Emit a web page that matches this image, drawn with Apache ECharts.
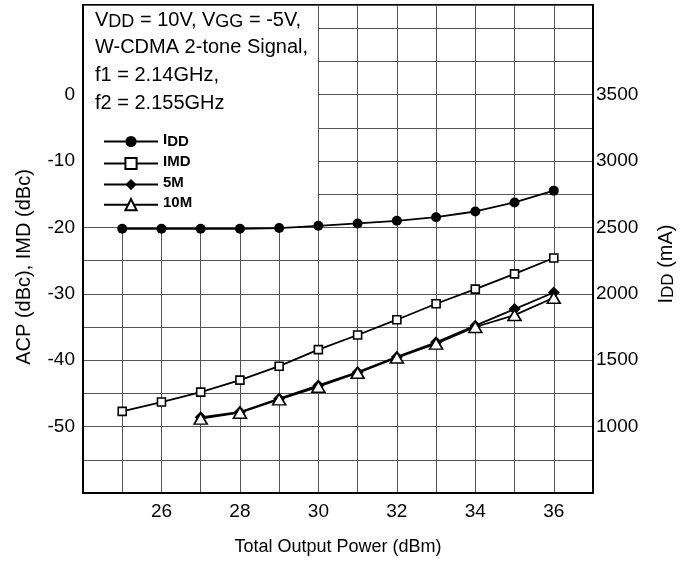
<!DOCTYPE html>
<html>
<head>
<meta charset="utf-8">
<script src="https://cdn.jsdelivr.net/npm/echarts@6/dist/echarts.min.js"></script>
<style>
  html, body { margin: 0; padding: 0; background: #fff; }
  #chart { width: 691px; height: 561px; }
</style>
</head>
<body>
<div id="chart"></div>
<script>
// values
const powerAll = [25, 26, 27, 28, 29, 30, 31, 32, 33, 34, 35, 36]
const iddValues = [2490, 2490, 2490, 2490, 2495, 2512, 2530, 2550, 2577, 2620, 2688, 2777]
const imdValues = [-47.7, -46.3, -44.8, -43.0, -40.9, -38.4, -36.2, -33.9, -31.5, -29.3, -27.0, -24.6]
const powerAcp = [27, 28, 29, 30, 31, 32, 33, 34, 35, 36]
const acp5Values = [-48.6, -47.8, -45.8, -43.8, -41.8, -39.5, -37.3, -34.8, -32.3, -29.8]
const acp10Values = [-48.8, -47.9, -45.9, -44.0, -41.9, -39.6, -37.5, -35.0, -33.2, -30.6]

const xTickLabels = [26, 28, 30, 32, 34, 36]
const leftTickLabels = [-50, -40, -30, -20, -10, 0]
const rightTickLabels = [1000, 1500, 2000, 2500, 3000, 3500]

const noteLines = [
  '{t|V}{s|DD}{t| = 10V, V}{s|GG}{t| = -5V,}',
  '{t|W-CDMA 2-tone Signal,}',
  '{t|f1 = 2.14GHz,}',
  '{t|f2 = 2.155GHz}',
]

const FONT = '"Liberation Sans", Arial, Helvetica, sans-serif'

const pairs = (xs, ys) => xs.map((x, i) => [x, ys[i]])

const chart = echarts.init(document.getElementById('chart'), null, { renderer: 'canvas' })

const lineStyle = { color: '#000', width: 1.8 }

const option = {
  animation: false,
  backgroundColor: '#fff',
  textStyle: { fontFamily: FONT },
  grid: {
    left: 83,
    right: 98,
    top: 5,
    bottom: 68,
    show: true,
    borderColor: '#000',
    borderWidth: 2,
  },
  legend: {
    orient: 'vertical',
    left: 103,
    top: 132,
    padding: 0,
    itemWidth: 54,
    itemHeight: 14,
    itemGap: 5,
    data: ['IDD', 'IMD', '5M', '10M'],
    formatter: (name) => name === 'IDD' ? '{b|I}{bs|DD}' : '{b|' + name + '}',
    textStyle: {
      color: '#000',
      padding: [0, 0, 0, 0],
      rich: {
        b: { fontFamily: FONT, fontSize: 15, fontWeight: 'bold', color: '#000', padding: [0, 0, 4, 0] },
        bs: { fontFamily: FONT, fontSize: 15, fontWeight: 'bold', color: '#000' },
      },
    },
  },
  xAxis: {
    type: 'value',
    min: 24,
    max: 37,
    interval: 1,
    name: 'Total Output Power (dBm)',
    nameLocation: 'middle',
    nameGap: 45,
    nameTextStyle: { fontSize: 18, color: '#000', fontFamily: FONT },
    axisLine: { show: true, onZero: false, lineStyle: { color: '#000', width: 2 } },
    axisTick: { show: false },
    axisLabel: {
      color: '#000',
      fontSize: 19,
      margin: 9,
      formatter: (v) => xTickLabels.includes(v) ? String(v) : '',
    },
    splitLine: { show: true, lineStyle: { color: '#555', width: 1 } },
  },
  yAxis: [
    {
      type: 'value',
      min: -60,
      max: 13.5,
      interval: 5,
      name: 'ACP (dBc), IMD (dBc)',
      nameLocation: 'middle',
      nameGap: 49,
      nameRotate: 90,
      nameTextStyle: { fontSize: 20, color: '#000', fontFamily: FONT, padding: [0, 36, 0, 0] },
      axisLine: { show: true, onZero: false, lineStyle: { color: '#000', width: 2 } },
      axisTick: { show: false },
      axisLabel: {
        color: '#000',
        fontSize: 19,
        margin: 8,
        formatter: (v) => leftTickLabels.includes(v) ? String(v) : '',
      },
      splitLine: { show: true, lineStyle: { color: '#555', width: 1 } },
    },
    {
      type: 'value',
      min: 500,
      max: 4175,
      interval: 250,
      position: 'right',
      name: '{t|I}{s|DD}{t| (mA)}',
      nameLocation: 'middle',
      nameGap: 63,
      nameRotate: 90,
      nameTextStyle: {
        color: '#000',
        padding: [0, 30, 0, 0],
        rich: {
          t: { fontSize: 20, fontFamily: FONT, color: '#000', padding: [0, 0, 4, 0] },
          s: { fontSize: 17, fontFamily: FONT, color: '#000' },
        },
      },
      axisLine: { show: true, onZero: false, lineStyle: { color: '#000', width: 2 } },
      axisTick: { show: false },
      axisLabel: {
        color: '#000',
        fontSize: 19,
        margin: 3,
        formatter: (v) => rightTickLabels.includes(v) ? String(v) : '',
      },
      splitLine: { show: false },
    },
  ],
  series: [
    {
      name: 'IDD',
      type: 'line',
      yAxisIndex: 1,
      data: pairs(powerAll, iddValues),
      symbol: 'circle',
      symbolSize: 10,
      itemStyle: { color: '#000' },
      lineStyle,
      z: 5,
    },
    {
      name: 'IMD',
      type: 'line',
      data: pairs(powerAll, imdValues),
      symbol: 'rect',
      symbolSize: 8,
      itemStyle: { color: '#fff', borderColor: '#000', borderWidth: 1.6 },
      lineStyle,
      z: 5,
    },
    {
      name: '5M',
      type: 'line',
      data: pairs(powerAcp, acp5Values),
      symbol: 'diamond',
      symbolSize: 12,
      itemStyle: { color: '#000' },
      lineStyle,
      z: 5,
    },
    {
      name: '10M',
      type: 'line',
      data: pairs(powerAcp, acp10Values),
      symbol: 'triangle',
      symbolSize: [13, 11],
      itemStyle: { color: '#fff', borderColor: '#000', borderWidth: 1.6 },
      lineStyle,
      z: 6,
    },
  ],
}

chart.setOption(option)

// white note box over the upper-left grid cells, bounded by the x=30 and y=-20 grid lines
const corner = chart.convertToPixel({ gridIndex: 0 }, [30, -20])
const origin = chart.convertToPixel({ gridIndex: 0 }, [24, 13.5])
chart.setOption({
  graphic: [
    {
      type: 'rect',
      z: 1,
      silent: true,
      shape: {
        x: origin[0] + 1,
        y: origin[1] + 1,
        width: corner[0] - origin[0] - 1.5,
        height: corner[1] - origin[1] - 1.5,
      },
      style: { fill: '#fff' },
    },
    ...noteLines.map((txt, i) => ({
      type: 'text',
      z: 3,
      silent: true,
      left: origin[0] + 12,
      top: origin[1] + 5 + i * 27.7,
      style: {
        text: txt,
        rich: {
          t: { fontSize: 20, fontFamily: FONT, fill: '#000', padding: [0, 0, 4, 0] },
          s: { fontSize: 18, fontFamily: FONT, fill: '#000' },
        },
      },
    })),
  ],
})
</script>
</body>
</html>
